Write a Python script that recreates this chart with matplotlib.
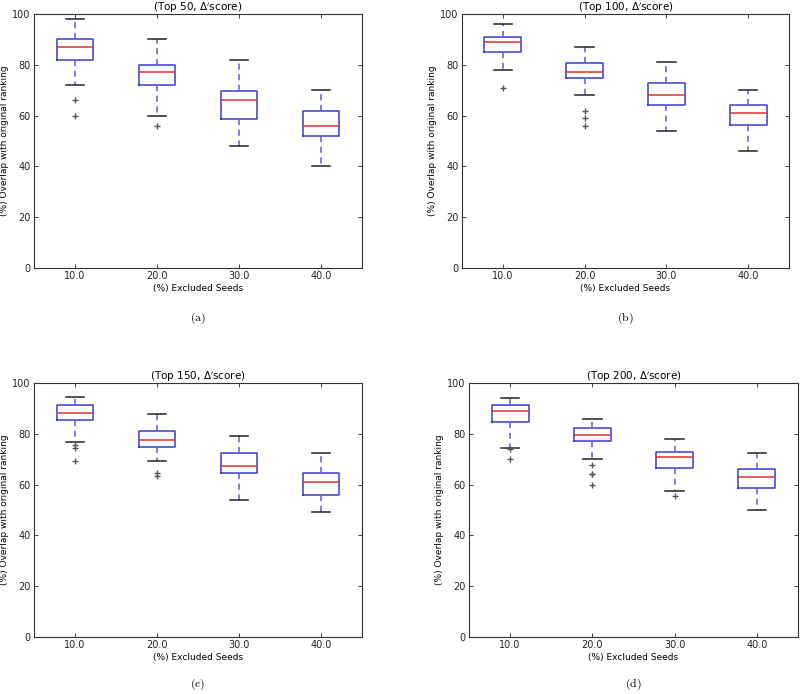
import numpy as np
import matplotlib
matplotlib.use("Agg")
import matplotlib.pyplot as plt

# данные
categories = ["10.0", "20.0", "30.0", "40.0"]
titles = [r"(Top 50, $\Delta'$score)", r"(Top 100, $\Delta'$score)",
          r"(Top 150, $\Delta'$score)", r"(Top 200, $\Delta'$score)"]
captions = ["(a)", "(b)", "(c)", "(d)"]

# whislo, q1, med, q3, whishi для каждого панеля
top50_whislo = [72, 60, 48, 40]
top50_q1 = [82, 72, 58.5, 52]
top50_med = [87, 77, 66, 56]
top50_q3 = [90, 80, 69.5, 62]
top50_whishi = [98, 90, 82, 70]
top50_fliers = [[66, 60], [56], [], []]

top100_whislo = [78, 68, 54, 46]
top100_q1 = [85, 75, 64, 56.3]
top100_med = [89, 77, 68, 61]
top100_q3 = [91, 80.7, 72.8, 64]
top100_whishi = [96, 87, 81, 70]
top100_fliers = [[71], [62, 59, 56], [], []]

top150_whislo = [76.6, 69.3, 53.8, 49.2]
top150_q1 = [85.3, 74.7, 64.7, 56.1]
top150_med = [88.1, 77.7, 67.2, 61.2]
top150_q3 = [91.3, 81.2, 72.3, 64.6]
top150_whishi = [94.6, 87.9, 79.2, 72.6]
top150_fliers = [[75.6, 74.6, 69.3], [64.6, 63.3], [], []]

top200_whislo = [74.5, 70, 57.5, 49.9]
top200_q1 = [84.6, 77, 66.5, 58.8]
top200_med = [89, 79.5, 71, 63]
top200_q3 = [91.5, 82.4, 73, 66]
top200_whishi = [94.2, 86, 78, 72.5]
top200_fliers = [[74, 70], [67.8, 64.3, 64, 60], [55.4], []]

panels = [
    (top50_whislo, top50_q1, top50_med, top50_q3, top50_whishi, top50_fliers),
    (top100_whislo, top100_q1, top100_med, top100_q3, top100_whishi, top100_fliers),
    (top150_whislo, top150_q1, top150_med, top150_q3, top150_whishi, top150_fliers),
    (top200_whislo, top200_q1, top200_med, top200_q3, top200_whishi, top200_fliers),
]

fig = plt.figure(figsize=(8.0, 6.94), dpi=100)
fig.patch.set_facecolor("white")

# позиции осей в пикселях (left, top, right, bottom)
boxes_px = [(34, 14, 362, 268), (462, 14, 789, 268),
            (34, 383, 362, 637), (469, 383, 798, 637)]
W, H = 800.0, 694.0
caption_y = [318, 318, 684, 684]

for i, (lo, q1, med, q3, hi, fl) in enumerate(panels):
    l, t, r, b = boxes_px[i]
    ax = fig.add_axes([l / W, 1 - b / H, (r - l) / W, (b - t) / H])
    stats = []
    for j in range(len(categories)):
        stats.append(dict(whislo=lo[j], q1=q1[j], med=med[j], q3=q3[j],
                          whishi=hi[j], fliers=fl[j], label=categories[j]))
    ax.bxp(stats, positions=[1, 2, 3, 4], widths=0.45, showfliers=True,
           boxprops=dict(color="#3a3acc", linewidth=1.1),
           medianprops=dict(color="#e03030", linewidth=1.1),
           whiskerprops=dict(color="#5a5ae0", linestyle=(0, (4, 3)), linewidth=1.1),
           capprops=dict(color="#222222", linewidth=1.1),
           flierprops=dict(marker="+", markeredgecolor="#555555",
                           markersize=4, linestyle="none"))
    ax.set_xlim(0.5, 4.5)
    ax.set_ylim(0, 100)
    ax.set_yticks([0, 20, 40, 60, 80, 100])
    ax.tick_params(direction="in", top=True, right=True, labelsize=7,
                   length=3, width=0.6, pad=2.5, colors="#222222")
    for s in ax.spines.values():
        s.set_linewidth(0.8)
        s.set_color("#333333")
    ax.set_title(titles[i], fontsize=7.5, pad=2)
    ax.set_xlabel("(%) Excluded Seeds", fontsize=6.5, labelpad=2)
    ax.set_ylabel("(%) Overlap with original ranking", fontsize=6.5, labelpad=2)
    fig.text((l + r) / 2 / W, 1 - caption_y[i] / H, "$\\mathrm{" + captions[i] + "}$",
             ha="center", va="center", fontsize=8.5, math_fontfamily="cm")

fig.savefig("out.png", dpi=100, facecolor="white")
